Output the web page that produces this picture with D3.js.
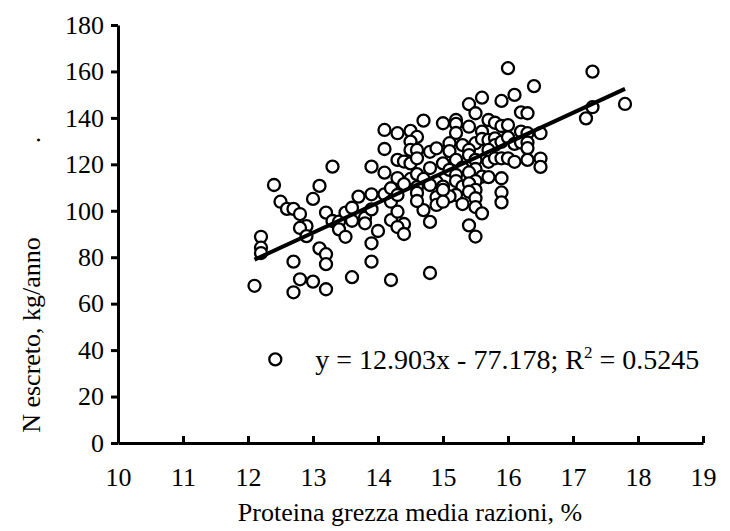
<!DOCTYPE html>
<html>
<head>
<meta charset="utf-8">
<script src="https://cdn.jsdelivr.net/npm/d3@7"></script>
<style>
  body { margin: 0; background: #fff; }
  svg text { font-family: "Liberation Serif", "Times New Roman", serif; fill: #000; }
</style>
</head>
<body>
<div id="chart-area"></div>
<script>
// Data: protein % (x) and N excreted kg/year (y)
var proteina = [
  13.3, 13.9, 14.1, 12.4, 13.1, 13.0, 12.5, 12.6, 12.7, 12.8, 12.9, 12.8, 12.9,
  13.2, 13.3, 13.4, 13.4, 13.5, 13.6, 13.6, 13.5, 13.7, 13.8, 13.8, 13.9, 13.9,
  14.0, 13.9, 14.1, 14.2, 14.2, 14.2, 12.2, 12.2, 12.2, 13.1, 13.2, 13.2, 12.7,
  13.9, 12.8, 13.0, 12.7, 13.2, 13.6, 14.2, 12.1, 14.1, 14.1, 14.8,
  16.0, 17.3, 16.4, 16.1, 15.6, 15.9, 15.4, 15.5, 16.2, 16.3, 14.7, 15.0, 15.2,
  15.2, 15.7, 15.8, 15.9, 16.0, 15.4, 17.3, 17.2, 17.8, 14.3, 14.5, 15.2, 15.6,
  16.2, 16.3, 16.5, 14.6, 14.5, 15.1, 15.3, 15.5, 15.6, 15.7, 15.8, 15.8, 15.9,
  16.0, 16.1, 16.2, 16.3, 16.3, 14.5, 14.6, 14.8, 14.9, 15.1, 15.4, 15.7, 15.4,
  14.3, 14.4, 14.5, 14.6, 15.0, 15.2, 15.5, 15.7, 15.8, 15.9, 16.0, 16.1, 16.3,
  16.5, 16.5, 14.8, 15.1, 15.3, 15.5, 15.4, 15.2, 14.3, 14.5, 14.6, 14.7, 14.9,
  15.2, 15.6, 15.7, 15.9, 15.5, 15.0, 15.3, 14.4, 14.6, 14.6, 14.8, 15.4, 15.5,
  15.4, 15.9, 15.2, 15.1, 14.9, 14.9, 15.0, 15.0, 15.5, 15.3, 15.5, 15.6, 15.9,
  14.7, 14.6, 14.3, 14.3, 14.8, 14.4, 14.3, 14.4, 15.4, 15.5
];
var nEscreto = [
  119.0, 119.0, 116.4, 111.1, 110.7, 105.1, 103.9, 100.8, 100.8, 98.6, 93.4, 92.6, 89.1,
  99.2, 95.6, 95.3, 92.0, 99.2, 101.3, 95.7, 88.8, 106.1, 97.0, 94.6, 107.1, 100.6,
  91.3, 86.0, 107.1, 109.7, 103.9, 96.0, 88.8, 84.1, 81.8, 83.8, 81.3, 77.0, 78.1,
  78.1, 70.5, 69.5, 64.9, 66.2, 71.4, 70.2, 67.7, 134.8, 126.6, 73.2,
  161.4, 159.9, 153.7, 149.9, 148.7, 147.3, 145.9, 142.0, 142.4, 142.0, 138.8, 137.7, 139.1,
  137.4, 139.1, 137.9, 136.5, 136.9, 136.2, 144.6, 139.8, 146.0, 133.4, 134.4, 133.5, 134.1,
  134.1, 133.4, 133.4, 131.8, 129.8, 129.1, 128.3, 129.1, 130.9, 130.5, 131.2, 128.3, 129.7,
  131.6, 128.8, 129.4, 129.4, 127.0, 126.2, 126.2, 125.4, 126.9, 125.7, 126.2, 126.2, 124.0,
  121.9, 121.2, 120.4, 122.6, 120.4, 121.9, 121.9, 121.1, 122.6, 122.6, 122.6, 121.1, 121.9,
  122.5, 118.9, 118.4, 117.6, 118.6, 118.0, 116.5, 115.4, 114.1, 113.7, 115.8, 113.7, 112.5,
  112.8, 114.7, 114.5, 114.0, 112.8, 110.4, 110.4, 111.5, 110.2, 107.7, 111.1, 111.8, 109.0,
  108.2, 107.9, 106.8, 106.2, 105.9, 102.5, 109.0, 103.9, 105.4, 102.9, 101.6, 98.9, 103.6,
  100.3, 104.2, 106.8, 99.6, 95.2, 94.3, 93.0, 90.0, 93.7, 88.9
];

// Regression given on the chart
var slope = 12.903, intercept = -77.178;
var xTicks = [10, 11, 12, 13, 14, 15, 16, 17, 18, 19];
var yTicks = [0, 20, 40, 60, 80, 100, 120, 140, 160, 180];

var width = 730, height = 531;
var svg = d3.select("#chart-area")
    .append("svg")
        .attr("width", width)
        .attr("height", height);

// Scales
var x = d3.scaleLinear().domain([10, 19]).range([118, 703]);
var y = d3.scaleLinear().domain([0, 180]).range([443, 25]);

// Y Axis
var yAxisCall = d3.axisLeft(y)
    .tickValues(yTicks)
    .tickSizeInner(7)
    .tickSizeOuter(0)
    .tickPadding(7);
var yAxis = svg.append("g")
    .attr("class", "y axis")
    .attr("transform", "translate(" + x(10) + ",0)")
    .call(yAxisCall);

// X Axis (ticks point up into the plot)
var xAxisCall = d3.axisBottom(x)
    .tickValues(xTicks)
    .tickSizeInner(-7)
    .tickSizeOuter(0)
    .tickPadding(25);
var xAxis = svg.append("g")
    .attr("class", "x axis")
    .attr("transform", "translate(0," + y(0) + ")")
    .call(xAxisCall);

[xAxis, yAxis].forEach(function(a){
    a.select(".domain").attr("stroke", "#000").attr("stroke-width", 3);
    a.selectAll(".tick line").attr("stroke", "#000").attr("stroke-width", 3);
    a.selectAll(".tick text")
        .attr("font-size", "26px")
        .attr("font-family", "Liberation Serif, Times New Roman, serif")
        .attr("fill", "#000");
});

// Points
var pts = proteina.map(function(d, i){ return { x: d, y: nEscreto[i] }; });
svg.append("g").selectAll("circle")
    .data(pts)
    .enter().append("circle")
        .attr("cx", function(d){ return x(d.x); })
        .attr("cy", function(d){ return y(d.y); })
        .attr("r", 6)
        .attr("fill", "#fff")
        .attr("stroke", "#000")
        .attr("stroke-width", 2.3);

// Trend line across the data range
var xMin = d3.min(proteina), xMax = d3.max(proteina);
svg.append("line")
    .attr("x1", x(xMin))
    .attr("y1", y(slope * xMin + intercept))
    .attr("x2", x(xMax))
    .attr("y2", y(slope * xMax + intercept))
    .attr("stroke", "#000")
    .attr("stroke-width", 4);

// Legend
var legend = svg.append("g")
    .attr("transform", "translate(" + x(12.42) + "," + y(36) + ")");
legend.append("circle")
    .attr("r", 6)
    .attr("fill", "#fff")
    .attr("stroke", "#000")
    .attr("stroke-width", 2.3);
var lt = legend.append("text")
    .attr("x", 40)
    .attr("y", 10)
    .attr("font-size", "28px");
lt.append("tspan").text("y = 12.903x - 77.178; R");
lt.append("tspan").attr("dy", -11).attr("font-size", "17px").text("2");
lt.append("tspan").attr("dy", 11).text(" = 0.5245");

// Labels
svg.append("text")
    .attr("x", 410)
    .attr("y", 521)
    .attr("font-size", "26px")
    .attr("text-anchor", "middle")
    .text("Proteina grezza media razioni, %");
svg.append("text")
    .attr("transform", "translate(40,335) rotate(-90)")
    .attr("font-size", "26px")
    .attr("text-anchor", "middle")
    .text("N escreto, kg/anno");
svg.append("text")
    .attr("transform", "translate(40,140) rotate(-90)")
    .attr("font-size", "26px")
    .attr("text-anchor", "middle")
    .text(".");
</script>
</body>
</html>
